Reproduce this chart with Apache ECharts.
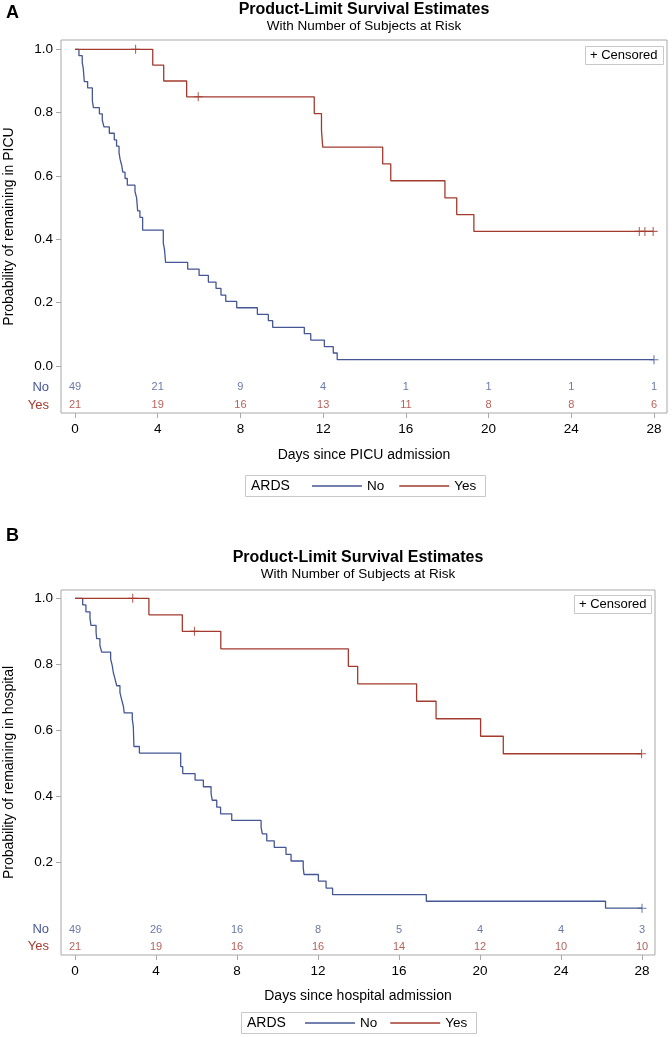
<!DOCTYPE html>
<html><head><meta charset="utf-8">
<script src="https://cdn.jsdelivr.net/npm/echarts@6/dist/echarts.min.js"></script>
<style>html,body{margin:0;padding:0;background:#fff}#c{width:672px;height:1037px}</style>
</head><body><div id="c"></div>
<script>
// ---------- data ----------
const dayTicks = [0, 4, 8, 12, 16, 20, 24, 28];
const groups = ['No', 'Yes'];
const probTicksA = [0, 0.2, 0.4, 0.6, 0.8, 1.0];
const probTicksB = [0.2, 0.4, 0.6, 0.8, 1.0];

// Panel A: PICU
const aNoTime = [0,0.19,0.35,0.40,0.45,0.61,0.84,0.89,1.18,1.32,1.40,1.66,1.90,2.01,2.13,2.18,2.26,2.31,2.42,2.53,2.90,2.98,3.03,3.14,3.27,4.27,4.33,4.38,5.45,6.00,6.45,6.82,7.06,7.29,7.82,8.82,9.35,9.56,11.09,11.40,12.06,12.49,12.68,28];
const aNoSurv = [1,0.980,0.959,0.939,0.898,0.878,0.837,0.816,0.796,0.776,0.755,0.735,0.714,0.694,0.673,0.653,0.633,0.612,0.592,0.571,0.551,0.531,0.490,0.469,0.429,0.388,0.367,0.327,0.306,0.286,0.265,0.245,0.224,0.204,0.184,0.163,0.143,0.122,0.102,0.082,0.061,0.041,0.020,0.020];
const aNoCensor = [28];
const aYesTime = [0,3.76,4.29,5.40,11.57,11.92,11.98,14.88,15.27,17.89,18.46,19.29,27.96];
const aYesSurv = [1,0.950,0.900,0.850,0.797,0.744,0.691,0.638,0.585,0.531,0.478,0.425,0.425];
const aYesCensor = [2.93,5.96,27.29,27.56,27.96];
const aRiskNo = [49,21,9,4,1,1,1,1];
const aRiskYes = [21,19,16,13,11,8,8,6];

// Panel B: hospital
const bNoTime = [0,0.38,0.54,0.74,0.79,1.04,1.07,1.23,1.32,1.76,1.84,1.89,1.98,2.06,2.22,2.30,2.39,2.43,2.83,2.88,2.91,3.18,5.22,5.32,5.93,6.34,6.72,6.78,7.00,7.19,7.74,9.19,9.25,9.47,9.84,10.42,10.67,11.27,11.31,12.02,12.40,12.72,17.35,26.20,28];
const bNoSurv = [1,0.980,0.959,0.939,0.918,0.898,0.878,0.857,0.837,0.816,0.796,0.776,0.755,0.735,0.714,0.694,0.673,0.653,0.633,0.612,0.551,0.531,0.490,0.469,0.449,0.429,0.408,0.388,0.367,0.347,0.327,0.306,0.286,0.265,0.245,0.224,0.204,0.184,0.163,0.143,0.122,0.102,0.082,0.061,0.061];
const bNoCensor = [28];
const bYesTime = [0,3.65,5.30,7.20,13.50,13.96,16.87,17.83,20.03,21.15,27.98];
const bYesSurv = [1,0.950,0.900,0.847,0.794,0.741,0.688,0.635,0.582,0.529,0.529];
const bYesCensor = [2.85,5.90,27.98];
const bRiskNo = [49,26,16,8,5,4,4,3];
const bRiskYes = [21,19,16,16,14,12,10,10];

// ---------- layout / styles ----------
const rangeA = {xMin: -0.677, xMax: 28.629, yMin: -0.1484, yMax: 1.0294};
const rangeB = {xMin: -0.691, xMax: 28.642, yMin: -0.0809, yMax: 1.0252};
const BLUE = '#445694', RED = '#A23A2E', FRAME = '#a8a8a8';
const FONT = 'Liberation Sans, Arial, sans-serif';
const groupColor = {No: BLUE, Yes: RED};
const PLUS = 'path://M4.4,0H5.6V4.4H10V5.6H5.6V10H4.4V5.6H0V4.4H4.4Z';

function survAt(times, surv, t) {
  let s = surv[0];
  for (let i = 0; i < times.length; i++) { if (times[i] <= t) s = surv[i]; }
  return s;
}
function kmLine(name, times, surv, xi, yi) {
  return {type: 'line', name, xAxisIndex: xi, yAxisIndex: yi, step: 'end', symbol: 'none',
    data: times.map((t, i) => [t, surv[i]]), color: groupColor[name],
    lineStyle: {width: 1.3, color: groupColor[name]}, silent: true};
}
function censorPts(name, times, surv, cens, xi, yi) {
  return {type: 'scatter', name, xAxisIndex: xi, yAxisIndex: yi, symbol: PLUS, symbolSize: 9,
    data: cens.map(t => [t, survAt(times, surv, t)]), itemStyle: {color: groupColor[name]}, silent: true};
}
function riskRow(id, grp, counts, xi, yi) {
  return {type: 'scatter', name: id, xAxisIndex: xi, yAxisIndex: yi, symbolSize: 0,
    data: dayTicks.map((t, i) => [t, grp, counts[i]]), silent: true,
    label: {show: true, position: 'inside', formatter: p => String(p.value[2]),
      color: groupColor[grp], fontSize: 11, fontFamily: FONT}};
}
function xMain(gi, r, name, gap) {
  return {gridIndex: gi, type: 'value', min: r.xMin, max: r.xMax,
    axisLine: {show: false, onZero: false}, splitLine: {show: false},
    axisTick: {show: true, length: 5, customValues: dayTicks, lineStyle: {color: FRAME}},
    axisLabel: {margin: 9, fontSize: 13.5, color: '#000', fontFamily: FONT, customValues: dayTicks},
    name, nameLocation: 'middle', nameGap: gap,
    nameTextStyle: {fontSize: 14, color: '#000', fontFamily: FONT}};
}
function yMain(gi, r, name, ticks) {
  return {gridIndex: gi, type: 'value', min: r.yMin, max: r.yMax,
    axisLine: {show: false, onZero: false}, splitLine: {show: false},
    axisTick: {show: true, length: 5, customValues: ticks, lineStyle: {color: FRAME}},
    axisLabel: {margin: 8, fontSize: 13.5, color: '#000', fontFamily: FONT, customValues: ticks, formatter: v => v.toFixed(1)},
    name, nameLocation: 'middle', nameGap: 45,
    nameTextStyle: {fontSize: 14, color: '#000', fontFamily: FONT}};
}
function yRisk(gi) {
  return {gridIndex: gi, type: 'category', data: groups, inverse: true,
    axisLine: {show: false, onZero: false}, axisTick: {show: false}, splitLine: {show: false},
    axisLabel: {margin: 26, fontSize: 13, fontFamily: FONT, color: v => groupColor[v]}};
}
function xRisk(gi) { return {gridIndex: gi, type: 'value', min: 0, max: 28, show: false}; }

function boxText(x, y, w, h, text, tx, fs) {
  return [
    {type: 'rect', shape: {x, y, width: w, height: h}, style: {fill: '#fff', stroke: '#c8c8c8', lineWidth: 1}, z: 5},
    {type: 'text', x: tx, y: y + h / 2, style: {text, font: fs + 'px ' + FONT, fill: '#000', textVerticalAlign: 'middle'}, z: 6}
  ];
}
const titleStyle = {fontSize: 16, fontWeight: 'bold', color: '#000', fontFamily: FONT};
const subStyle = {fontSize: 13.5, color: '#000', fontFamily: FONT};
const legendBase = {data: groups, itemWidth: 50, itemHeight: 14, selectedMode: false, z: 7, padding: 0,
  icon: 'path://M0,0H50V1.3H0Z', textStyle: {fontSize: 13.5, color: '#000', fontFamily: FONT}};
const gridBase = {outerBoundsMode: 'none', containLabel: false};

const option = {
  animation: false,
  backgroundColor: '#fff',
  title: [
    {text: 'A', left: 6, top: 4, padding: 0, textStyle: {fontSize: 18, fontWeight: 'bold', color: '#000', fontFamily: FONT}},
    {text: 'Product-Limit Survival Estimates', subtext: 'With Number of Subjects at Risk', left: 364, top: 2, textAlign: 'center', padding: 0, itemGap: 1,
      textStyle: titleStyle, subtextStyle: subStyle},
    {text: 'B', left: 6, top: 527, padding: 0, textStyle: {fontSize: 18, fontWeight: 'bold', color: '#000', fontFamily: FONT}},
    {text: 'Product-Limit Survival Estimates', subtext: 'With Number of Subjects at Risk', left: 358, top: 550, textAlign: 'center', padding: 0, itemGap: 1,
      textStyle: titleStyle, subtextStyle: subStyle}
  ],
  grid: [
    Object.assign({left: 61, top: 40, width: 606, height: 373, show: true, borderColor: FRAME, borderWidth: 1, backgroundColor: 'transparent'}, gridBase),
    Object.assign({left: 75, top: 378, width: 579, height: 36}, gridBase),
    Object.assign({left: 61, top: 590, width: 594, height: 365, show: true, borderColor: FRAME, borderWidth: 1, backgroundColor: 'transparent'}, gridBase),
    Object.assign({left: 75, top: 921, width: 567, height: 34}, gridBase)
  ],
  xAxis: [xMain(0, rangeA, 'Days since PICU admission', 35), xRisk(1), xMain(2, rangeB, 'Days since hospital admission', 34), xRisk(3)],
  yAxis: [yMain(0, rangeA, 'Probability of remaining in PICU', probTicksA), yRisk(1), yMain(2, rangeB, 'Probability of remaining in hospital', probTicksB), yRisk(3)],
  legend: [
    Object.assign({}, legendBase, {left: 312, top: 479, itemGap: 15}),
    Object.assign({}, legendBase, {left: 305, top: 1016, itemGap: 13})
  ],
  graphic: [
    ...boxText(585.5, 46.5, 78, 18, '+ Censored', 590, 13),
    ...boxText(574.5, 595.5, 77, 18, '+ Censored', 579, 13),
    ...boxText(245.5, 475.5, 240, 21, 'ARDS', 251, 14),
    ...boxText(241.5, 1012.5, 235, 21, 'ARDS', 247, 14)
  ],
  series: [
    kmLine('No', aNoTime, aNoSurv, 0, 0),
    kmLine('Yes', aYesTime, aYesSurv, 0, 0),
    censorPts('No', aNoTime, aNoSurv, aNoCensor, 0, 0),
    censorPts('Yes', aYesTime, aYesSurv, aYesCensor, 0, 0),
    riskRow('riskNoA', 'No', aRiskNo, 1, 1),
    riskRow('riskYesA', 'Yes', aRiskYes, 1, 1),
    kmLine('No', bNoTime, bNoSurv, 2, 2),
    kmLine('Yes', bYesTime, bYesSurv, 2, 2),
    censorPts('No', bNoTime, bNoSurv, bNoCensor, 2, 2),
    censorPts('Yes', bYesTime, bYesSurv, bYesCensor, 2, 2),
    riskRow('riskNoB', 'No', bRiskNo, 3, 3),
    riskRow('riskYesB', 'Yes', bRiskYes, 3, 3)
  ]
};
const chart = echarts.init(document.getElementById('c'), null, {renderer: 'canvas'});
chart.setOption(option);
</script></body></html>
